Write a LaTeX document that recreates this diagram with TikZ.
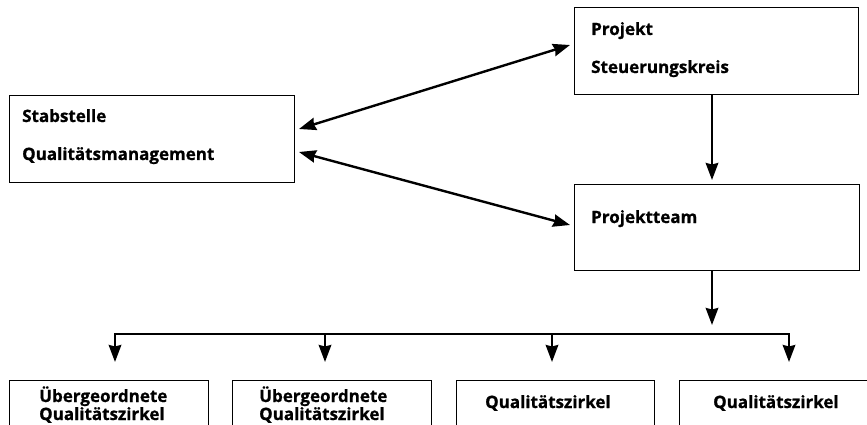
\documentclass[tikz,border=0pt]{standalone}
\usepackage{fontspec}
\setmainfont{Open Sans}[BoldFeatures={FakeBold=0.9}]
\usetikzlibrary{arrows.meta}
\begin{document}
\begin{tikzpicture}[x=1pt,y=-1pt,
  box/.style={draw=black, line width=1.2pt, inner sep=0pt, anchor=north west},
  lbl/.style={inner sep=0pt, anchor=base west, font=\fontsize{17}{20}\selectfont\bfseries},
  tip/.tip={Stealth[length=17pt,width=12.5pt,inset=1.5pt]},
  arr/.style={line width=2.4pt, -tip},
  darr/.style={line width=2.4pt, tip-tip},
  conn/.style={line width=2.4pt}]
\useasboundingbox (0,0) rectangle (867,425);
\clip (0,0) rectangle (867,425);
% boxes
\node[box, minimum width=285pt, minimum height=87pt] (stab) at (9,95) {};
\node[box, minimum width=284pt, minimum height=87pt] (proj) at (574,7) {};
\node[box, minimum width=285pt, minimum height=86pt] (team) at (574,184) {};
\node[box, minimum width=199pt, minimum height=80pt] (q1) at (9,380) {};
\node[box, minimum width=199pt, minimum height=80pt] (q2) at (232,380) {};
\node[box, minimum width=198pt, minimum height=80pt] (q3) at (456,380) {};
\node[box, minimum width=190pt, minimum height=80pt] (q4) at (679,380) {};
% labels
\node[lbl] (t1) at (22,122) {Stabstelle};
\node[lbl] (t2) at (22,160) {Qualitätsmanagement};
\node[lbl] (t3) at (591,35) {Projekt};
\node[lbl] (t4) at (591,73) {Steuerungskreis};
\node[lbl] (t5) at (591,223) {Projektteam};
\node[lbl] (t6) at (39,402) {Übergeordnete};
\node[lbl] (t7) at (39,420) {Qualitätszirkel};
\node[lbl] (t8) at (259,402) {Übergeordnete};
\node[lbl] (t9) at (259,420) {Qualitätszirkel};
\node[lbl] (t10) at (485,408) {Qualitätszirkel};
\node[lbl] (t11) at (713,408) {Qualitätszirkel};
% connector points
\coordinate (sA) at (299,129);
\coordinate (pA) at (570,45);
\coordinate (sB) at (299,152);
\coordinate (tB) at (570,225);
\coordinate (projIn) at (712,180);
\coordinate (teamOut) at (712,325);
\coordinate (hL) at (115,334);
\coordinate (hR) at (789,334);
\coordinate (h2) at (325,334);
\coordinate (h3) at (552,334);
\coordinate (d1) at (115,362);
\coordinate (d2) at (325,362);
\coordinate (d3) at (552,362);
\coordinate (d4) at (789,362);
% connectors
\draw[darr] (sA) -- (pA);
\draw[darr] (sB) -- (tB);
\draw[arr] (proj.south -| projIn) -- (projIn);
\draw[arr] (team.south -| teamOut) -- (teamOut);
\draw[conn, line cap=rect] (hL) -- (hR);
\draw[arr] (hL) -- (d1);
\draw[arr] (h2) -- (d2);
\draw[arr] (h3) -- (d3);
\draw[arr] (hR) -- (d4);
\end{tikzpicture}
\end{document}
